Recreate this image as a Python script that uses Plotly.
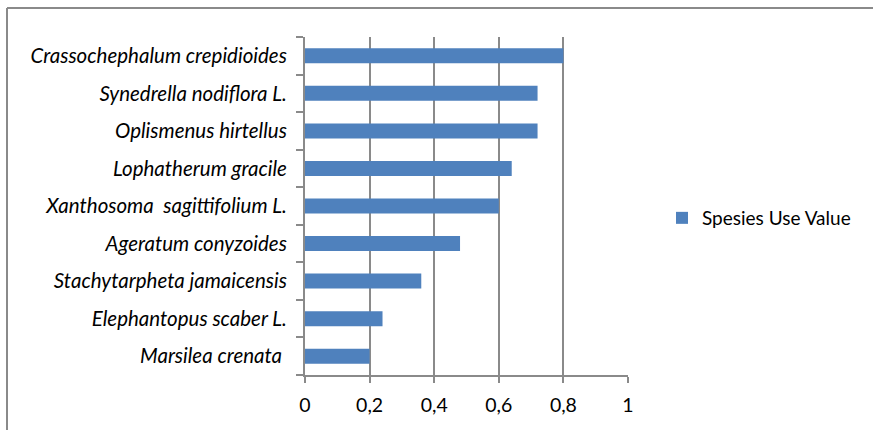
import plotly.graph_objects as go

# Species use values, listed bottom to top as drawn on the category axis
species = [
    "Marsilea crenata ",
    "Elephantopus scaber L.",
    "Stachytarpheta jamaicensis",
    "Ageratum conyzoides",
    "Xanthosoma  sagittifolium L.",
    "Lophatherum gracile",
    "Oplismenus hirtellus",
    "Synedrella nodiflora L.",
    "Crassochephalum crepidioides",
]
use_value = [0.20, 0.24, 0.36, 0.48, 0.60, 0.64, 0.72, 0.72, 0.80]
x_ticks = [0, 0.2, 0.4, 0.6, 0.8, 1]
series_name = "Spesies Use Value"

W, H = 873, 430
L, R, T, B = 305, 245, 37, 55
plot_w = W - L - R
plot_h = H - T - B

GRID = "#8a8a8a"
BAR = "#4f81bd"
FONT = "Lato, 'Open Sans', sans-serif"
FS = 20.5


def px_to_paper_x(px):
    return (px - L) / plot_w


def px_to_paper_y(py):
    return (H - B - py) / plot_h


fig = go.Figure(
    go.Bar(
        x=use_value,
        y=species,
        orientation="h",
        name=series_name,
        marker=dict(color=BAR, line=dict(width=0)),
        showlegend=True,
    )
)

fig.update_layout(
    width=W,
    height=H,
    margin=dict(l=L, r=R, t=T, b=B, autoexpand=False),
    paper_bgcolor="white",
    plot_bgcolor="white",
    separators=",.",
    bargap=0.6,
    font=dict(family=FONT, size=FS, color="#000000"),
    legend=dict(
        x=px_to_paper_x(662),
        y=px_to_paper_y(218),
        xanchor="left",
        yanchor="middle",
        font=dict(family=FONT, size=FS - 1.5, color="#000000"),
        itemwidth=30,
        bgcolor="rgba(0,0,0,0)",
    ),
    shapes=[
        # outer chart frame (top and left edges)
        dict(type="line", xref="paper", yref="paper",
             x0=px_to_paper_x(7), x1=px_to_paper_x(880),
             y0=px_to_paper_y(8), y1=px_to_paper_y(8),
             line=dict(color=GRID, width=2)),
        dict(type="line", xref="paper", yref="paper",
             x0=px_to_paper_x(7), x1=px_to_paper_x(7),
             y0=px_to_paper_y(8), y1=px_to_paper_y(440),
             line=dict(color=GRID, width=2)),
    ],
)

fig.update_xaxes(
    range=[0, 1],
    tickvals=x_ticks,
    showgrid=True,
    gridcolor=GRID,
    gridwidth=2,
    zeroline=False,
    showline=True,
    linecolor=GRID,
    linewidth=2,
    ticks="outside",
    ticklen=6,
    tickwidth=2,
    tickcolor=GRID,
    ticklabelstandoff=6,
    tickfont=dict(family=FONT, size=FS - 1, color="#000000"),
    fixedrange=True,
)

fig.update_yaxes(
    type="category",
    categoryorder="array",
    categoryarray=species,
    tickson="boundaries",
    showgrid=False,
    showline=True,
    linecolor=GRID,
    linewidth=2,
    ticks="outside",
    ticklen=7,
    tickwidth=2,
    tickcolor=GRID,
    ticklabelstandoff=12,
    tickfont=dict(family=FONT, size=FS, color="#000000", style="italic"),
    fixedrange=True,
)

fig.write_html("out.html")
